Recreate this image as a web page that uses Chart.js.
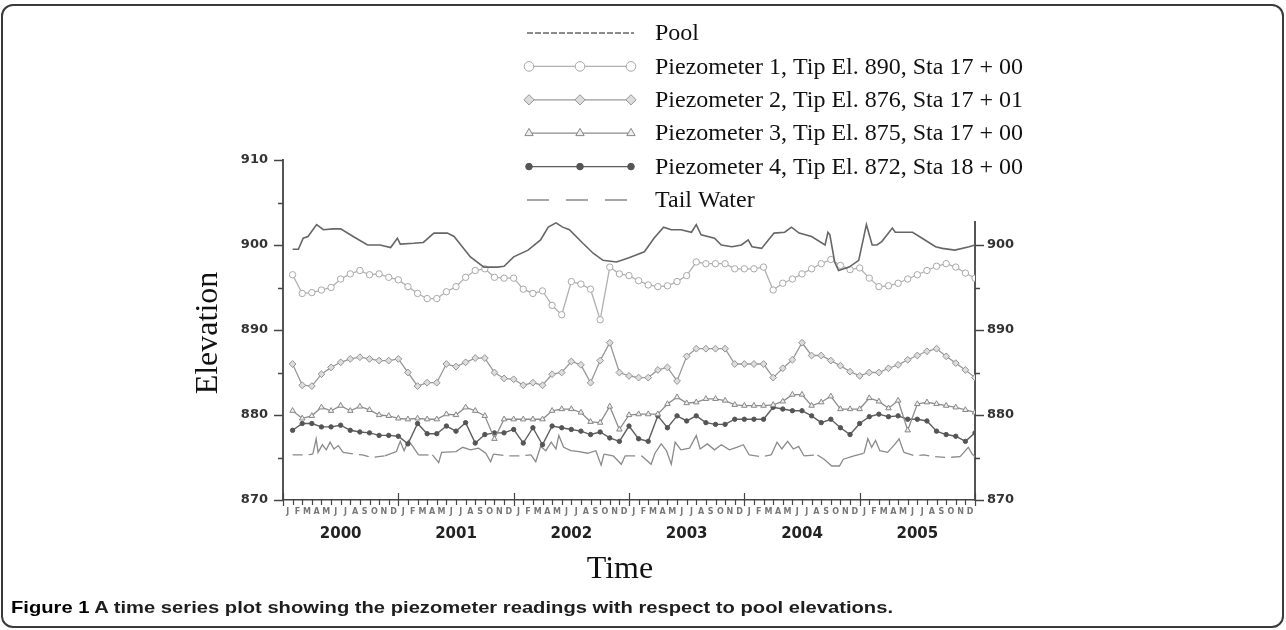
<!DOCTYPE html>
<html><head><meta charset="utf-8">
<script src="https://cdn.jsdelivr.net/npm/chart.js@4.4.1/dist/chart.umd.min.js"></script>
<style>
html,body{margin:0;padding:0;background:#fff;}
#wrap{position:relative;width:1286px;height:630px;overflow:hidden;background:#fff;}
#c{position:absolute;left:0;top:0;}
#frame{position:absolute;left:1px;top:4px;width:1283px;height:624px;box-sizing:border-box;border:2px solid #3a3a3a;border-radius:12px;pointer-events:none;}
#cap{position:absolute;left:11px;top:598px;font:700 16.5px "Liberation Sans","Arial",sans-serif;color:#1e1e1e;white-space:nowrap;transform-origin:0 0;}
#cap b{color:#000;}
</style></head>
<body>
<div id="wrap">
<canvas id="c" width="1286" height="630"></canvas>
<div id="frame"></div>
<div id="cap"><b>Figure 1</b> A time series plot showing the piezometer readings with respect to pool elevations.</div>
</div>
<script>
// ---------- DATA ----------
const legendLabels = ['Pool','Piezometer 1, Tip El. 890, Sta 17 + 00','Piezometer 2, Tip El. 876, Sta 17 + 01','Piezometer 3, Tip El. 875, Sta 17 + 00','Piezometer 4, Tip El. 872, Sta 18 + 00','Tail Water'];
const yearLabels = ['2000','2001','2002','2003','2004','2005'];
const monthLetters = ['J','F','M','A','M','J','J','A','S','O','N','D'];

// time in months since Jan 2000
const poolT = [1.0,1.6,2.1,2.6,3.5,4.2,5.2,6.0,7.3,8.8,10.1,11.2,11.9,12.2,13.6,14.6,15.7,17.1,17.8,19.5,20.9,22.3,23.0,24.0,25.5,26.8,27.6,28.4,29.1,29.8,31.2,32.3,33.3,34.7,36.0,37.6,38.6,39.6,40.4,41.4,42.5,43.0,43.5,44.9,45.6,46.7,47.7,48.4,48.8,49.8,50.5,51.1,52.2,52.9,53.7,55.0,56.4,56.7,56.9,57.4,57.8,58.9,59.9,60.4,60.7,61.3,61.8,62.3,63.4,63.7,65.5,66.5,67.9,68.6,69.9,71.4,72.0];
const poolV = [899.5,899.5,900.8,901.0,902.4,901.8,901.9,901.9,901.0,900.0,900.0,899.7,900.8,900.1,900.2,900.3,901.4,901.4,901.0,898.6,897.4,897.4,897.5,898.6,899.4,900.6,902.1,902.6,902.1,901.8,900.2,899.0,898.2,898.0,898.5,899.2,900.8,902.1,901.8,901.8,901.5,902.4,901.2,900.8,900.0,899.8,900.0,900.6,899.8,899.6,900.6,901.4,901.5,902.1,901.4,901.0,900.0,901.5,901.2,898.0,897.0,897.4,898.2,900.8,902.4,900.0,900.0,900.4,902.0,901.5,901.5,900.8,899.8,899.6,899.4,899.8,900.0];

const p1 = [896.5,894.3,894.4,894.7,895.0,896.0,896.6,897.0,896.5,896.6,896.2,895.9,895.1,894.3,893.7,893.7,894.5,895.1,896.2,897.0,897.2,896.2,896.1,896.1,894.8,894.3,894.6,892.9,891.8,895.7,895.4,894.8,891.2,897.4,896.6,896.4,895.8,895.3,895.1,895.2,895.7,896.4,898.0,897.8,897.8,897.8,897.2,897.2,897.2,897.4,894.7,895.5,896.0,896.6,897.2,897.8,898.3,897.6,897.1,897.3,896.1,895.1,895.2,895.5,896.0,896.5,897.0,897.5,897.8,897.4,896.7,896.1];
const p2 = [886.0,883.5,883.4,884.8,885.6,886.2,886.6,886.8,886.6,886.4,886.4,886.6,885.0,883.4,883.8,883.8,886.0,885.7,886.2,886.7,886.7,885.0,884.3,884.2,883.5,883.8,883.5,884.8,885.0,886.3,885.9,883.8,886.4,888.5,885.0,884.6,884.4,884.4,885.3,885.6,884.0,886.9,887.8,887.8,887.8,887.8,886.0,886.0,886.0,886.0,884.4,885.5,886.5,888.5,887.0,887.0,886.4,885.8,885.1,884.6,885.0,885.0,885.5,885.9,886.5,887.0,887.5,887.8,886.9,886.1,885.3,884.4];
const p3 = [880.5,879.6,879.9,880.9,880.5,881.1,880.5,881.0,880.6,880.0,879.9,879.6,879.5,879.6,879.5,879.5,880.1,880.0,880.9,880.5,879.9,877.2,879.5,879.5,879.5,879.5,879.5,880.5,880.7,880.7,880.3,879.2,879.1,881.0,878.3,880.0,880.1,880.1,880.1,881.3,882.1,881.4,881.5,881.9,881.9,881.7,881.2,881.1,881.1,881.1,881.2,881.6,882.4,882.4,881.1,881.5,882.2,880.7,880.7,880.7,882.0,881.6,880.8,881.7,878.2,881.3,881.5,881.3,881.1,880.9,880.6,880.3];
const p4 = [878.2,879.0,879.0,878.6,878.6,878.8,878.2,878.0,877.9,877.6,877.6,877.5,876.6,879.0,877.8,877.8,878.7,878.1,879.1,876.7,877.7,877.9,877.9,878.3,876.7,878.5,876.5,878.7,878.5,878.3,878.1,877.7,878.0,877.3,876.9,878.7,877.2,876.9,879.9,878.5,879.9,879.3,879.9,879.1,878.9,878.9,879.5,879.5,879.5,879.5,880.9,880.7,880.5,880.5,879.9,879.1,879.5,878.5,877.7,879.0,879.8,880.1,879.8,879.9,879.5,879.5,879.3,878.1,877.7,877.5,876.9,877.9];
const monthT = p1.map((_, i) => i + 1);

const tailT = [1.0,2.3,3.1,3.45,3.65,4.1,4.5,4.9,5.3,5.75,6.25,7.5,8.25,9.3,10.6,11.8,12.2,12.6,13.05,13.5,14.1,15.55,16.2,16.5,18.0,18.7,19.5,20.35,21.1,21.6,21.9,23.2,24.7,25.8,26.3,26.8,27.35,27.9,28.4,28.7,29.2,29.95,30.8,31.7,32.55,33.1,33.4,34.35,35.2,35.6,37.3,38.3,38.7,39.35,39.9,40.4,40.8,41.4,42.3,43.0,43.4,44.15,44.9,45.6,46.45,47.2,47.9,48.5,49.8,50.8,51.4,51.9,52.5,53.1,53.65,54.2,55.6,56.3,57.1,57.9,58.3,59.4,60.45,60.85,61.25,61.65,62.1,62.9,63.7,64.1,64.6,65.7,66.7,67.75,69.1,70.45,71.3,71.7,72.0];
const tailV = [875.3,875.3,875.4,877.2,875.6,876.5,875.9,876.8,876.0,876.4,875.6,875.4,875.3,875.0,875.2,875.7,876.9,875.8,877.0,876.3,875.3,875.3,874.4,875.6,875.7,876.2,875.9,876.1,875.5,874.5,875.4,875.2,875.2,875.3,874.5,876.3,875.8,876.8,876.0,877.6,876.2,875.8,875.7,875.5,875.8,874.1,875.4,875.2,874.2,875.2,875.2,874.2,875.5,876.6,875.8,874.2,876.8,875.9,876.1,877.6,876.0,876.6,875.9,876.5,875.9,876.2,876.5,875.3,875.1,875.3,876.8,876.0,876.9,876.0,876.3,875.2,875.3,874.8,874.0,874.0,874.8,875.2,875.5,877.2,876.2,877.0,875.8,875.6,876.6,877.2,875.6,875.2,875.3,875.1,875.0,875.1,876.2,875.4,875.1];

const yMin = 870, yMax = 910, yMajor = 10, yMinor = 5;

// ---------- BUILD ----------
const zip = (xs, ys) => xs.map((x, i) => ({x, y: ys[i]}));
const flat = v => Math.abs(v - 875.25) < 0.45;

const datasets = [
  {label: legendLabels[0], data: zip(poolT, poolV), borderColor: '#666', borderWidth: 1.6, pointRadius: 0, legendDash: [6,2]},
  {label: legendLabels[1], data: zip(monthT, p1), borderColor: '#b0b0b0', borderWidth: 1.3, pointStyle: 'circle', pointRadius: 3.2, pointBorderWidth: 1, pointBorderColor: '#a8a8a8', pointBackgroundColor: '#fff', legendDash: []},
  {label: legendLabels[2], data: zip(monthT, p2), borderColor: '#999', borderWidth: 1.3, pointStyle: 'rectRot', pointRadius: 3.4, pointBorderWidth: 1, pointBorderColor: '#939393', pointBackgroundColor: '#ddd', legendDash: []},
  {label: legendLabels[3], data: zip(monthT, p3), borderColor: '#8c8c8c', borderWidth: 1.3, pointStyle: 'triangle', pointRadius: 3.2, pointBorderWidth: 1, pointBorderColor: '#888', pointBackgroundColor: '#eee', legendDash: []},
  {label: legendLabels[4], data: zip(monthT, p4), borderColor: '#5e5e5e', borderWidth: 1.4, pointStyle: 'circle', pointRadius: 2.2, pointBorderWidth: 1, pointBorderColor: '#555', pointBackgroundColor: '#555', legendDash: []},
  {label: legendLabels[5], data: zip(tailT, tailV), borderColor: '#8a8a8a', borderWidth: 1.3, pointRadius: 0, legendDash: [22,17],
    segment: {borderDash: ctx => (flat(ctx.p0.parsed.y) && flat(ctx.p1.parsed.y)) ? [10,6] : undefined}}
];

const decor = {
  id: 'decor',
  beforeDatasetsDraw(chart) {
    const ctx = chart.ctx, y = chart.scales.y, x = chart.scales.x;
    const L = chart.chartArea.left, R = chart.chartArea.right, B = chart.chartArea.bottom;
    ctx.save();
    ctx.strokeStyle = '#444'; ctx.lineWidth = 1.5;
    for (let v = yMin; v <= yMax; v += yMinor) {
      const py = Math.round(y.getPixelForValue(v)) + 0.5;
      const len = (v % yMajor === 0) ? 9 : 5;
      ctx.beginPath(); ctx.moveTo(L - len, py); ctx.lineTo(L, py); ctx.stroke();
      ctx.beginPath(); ctx.moveTo(R, py); ctx.lineTo(R + len, py); ctx.stroke();
    }
    ctx.lineWidth = 1.2;
    for (let m = 0; m <= 72; m++) {
      const px = Math.round(x.getPixelForValue(m)) + 0.5;
      ctx.beginPath();
      if (m % 12 === 0) { ctx.moveTo(px, B - 7); ctx.lineTo(px, B + 6); }
      else { ctx.moveTo(px, B); ctx.lineTo(px, B + 5); }
      ctx.stroke();
    }
    // legend background (masks top of right axis)
    ctx.fillStyle = '#fff';
    ctx.fillRect(515, 0, 600, 221);
    ctx.restore();
  },
  afterDraw(chart) {
    const ctx = chart.ctx, x = chart.scales.x;
    ctx.save();
    // legend
    chart.data.datasets.forEach((ds, i) => {
      const ly = 33 + i * 33.4;
      ctx.strokeStyle = ds.borderColor; ctx.lineWidth = ds.borderWidth;
      ctx.setLineDash(ds.legendDash);
      ctx.beginPath(); ctx.moveTo(527, ly); ctx.lineTo(634, ly); ctx.stroke();
      ctx.setLineDash([]);
      if (ds.pointRadius > 0) {
        [529, 580, 631].forEach(mx => {
          ctx.fillStyle = ds.pointBackgroundColor; ctx.strokeStyle = ds.pointBorderColor; ctx.lineWidth = 1;
          Chart.helpers.drawPoint(ctx, {pointStyle: ds.pointStyle, radius: ds.pointRadius * 1.5, rotation: 0, borderWidth: 1}, mx, ly);
        });
      }
      ctx.fillStyle = '#111';
      ctx.font = '24px "Liberation Serif", "Times New Roman", serif';
      ctx.textBaseline = 'middle'; ctx.textAlign = 'left';
      ctx.fillText(ds.label, 655, ly + 1);
    });
    // month letters
    ctx.fillStyle = '#777';
    ctx.font = 'bold 8px "DejaVu Sans", sans-serif';
    ctx.textAlign = 'center'; ctx.textBaseline = 'middle';
    for (let m = 0; m < 72; m++) {
      ctx.fillText(monthLetters[m % 12], x.getPixelForValue(m + 0.5), 512);
    }
    // years
    ctx.fillStyle = '#222';
    ctx.font = 'bold 15px "DejaVu Sans", sans-serif';
    yearLabels.forEach((lab, k) => ctx.fillText(lab, x.getPixelForValue(12 * k + 6), 534));
    // axis titles
    ctx.fillStyle = '#111';
    ctx.font = '32px "Liberation Serif", "Times New Roman", serif';
    ctx.fillText('Time', 620, 570);
    ctx.translate(209, 333); ctx.rotate(-Math.PI / 2);
    ctx.fillText('Elevation', 0, 0);
    ctx.restore();
  }
};

const tickFont = {family: '"DejaVu Sans", sans-serif', size: 13, weight: 'bold'};
new Chart(document.getElementById('c'), {
  type: 'line',
  data: {datasets},
  options: {
    responsive: false, animation: false, devicePixelRatio: 1,
    layout: {padding: {top: 160, left: 0, right: 0, bottom: 0}},
    plugins: {legend: {display: false}, tooltip: {enabled: false}},
    elements: {line: {tension: 0}},
    scales: {
      x: {type: 'linear', min: 0, max: 72, grid: {display: false, drawTicks: false},
          ticks: {display: false}, border: {display: true, color: '#444', width: 1.6},
          afterFit: s => { s.height = 130; }},
      y: {position: 'left', min: yMin, max: yMax, grid: {display: false, drawTicks: false},
          ticks: {stepSize: yMajor, font: tickFont, color: '#333', padding: 15},
          border: {display: true, color: '#555', width: 2},
          afterFit: s => { s.width = 283; }},
      y2: {position: 'right', min: yMin, max: yMax, grid: {display: false, drawTicks: false},
          ticks: {stepSize: yMajor, font: tickFont, color: '#333', padding: 12},
          border: {display: true, color: '#555', width: 2},
          afterFit: s => { s.width = 311; }}
    }
  },
  plugins: [decor]
});

function fitCap() {
  const cap = document.getElementById('cap');
  cap.style.transform = 'none';
  const w = cap.getBoundingClientRect().width;
  cap.style.transform = 'scaleX(' + (882 / w) + ')';
}
fitCap();
if (document.fonts && document.fonts.ready) document.fonts.ready.then(fitCap);
</script>
</body></html>
